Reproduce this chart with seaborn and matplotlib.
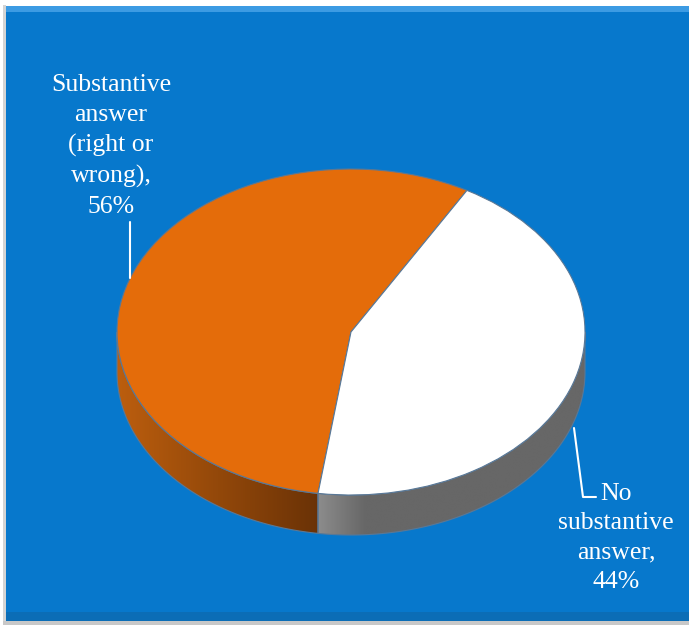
import numpy as np
import matplotlib
matplotlib.use("Agg")
import matplotlib.pyplot as plt
from matplotlib.patches import Polygon, Rectangle
from matplotlib.lines import Line2D
import matplotlib.colors as mcolors
import seaborn as sns

# ---- data ----
categories = ["Substantive\nanswer\n(right or\nwrong)", "No\nsubstantive\nanswer"]
values = [56, 44]
slice_colors = ["#E46C0A", "#FFFFFF"]
side_colors = [("#BC5E0E", "#6A3206"), ("#8C8C8C", "#676767")]

sns.set_style("white")
plt.rcParams["font.family"] = ["Liberation Serif", "DejaVu Serif"]

W, H = 689, 625
fig = plt.figure(figsize=(W / 100, H / 100), dpi=100)
fig.patch.set_facecolor("white")

def fx(px):
    return px / W

def fy(py):
    return 1 - py / H

def frect(x0, y0, x1, y1, color):
    fig.patches.append(Rectangle((fx(x0), fy(y1)), fx(x1) - fx(x0), fy(y0) - fy(y1),
                                 transform=fig.transFigure, facecolor=color,
                                 edgecolor="none", zorder=-5))

# frame / background
frect(3, 5, 6, 622, "#D4D4D4")
frect(3, 621, 689, 625, "#C8C8C8")
frect(6, 6, 689, 621, "#0778CC")
frect(6, 6, 689, 12, "#3C9BE3")
frect(6, 612, 689, 621, "#0B6DB6")

# pie geometry in pixels
cx, cy, a, b, depth = 351, 332, 234, 163, 40
ax = fig.add_axes([0, 0, 1, 1])
ax.set_facecolor("none")
ax.patch.set_alpha(0)
startangle = 60.3

wedges, _ = ax.pie(values, colors=slice_colors, startangle=startangle, counterclock=True,
                   wedgeprops=dict(edgecolor="#5A7896", linewidth=0.8))
for w in wedges:
    w.set_zorder(3)
ax.set_aspect("auto")
ax.axis("off")

d = depth / b
bounds = np.cumsum([0] + values) / sum(values) * 360 + startangle
for i in range(len(values)):
    t0, t1 = bounds[i], bounds[i + 1]
    segs = []
    for off in (0, -360, 360):
        l2, h2 = max(t0 + off, 180), min(t1 + off, 360)
        if h2 > l2:
            segs.append((l2, h2))
    for (l2, h2) in segs:
        t = np.radians(np.linspace(l2, h2, 200))
        xs, ys = np.cos(t), np.sin(t)
        pts = np.concatenate([np.c_[xs, ys], np.c_[xs[::-1], ys[::-1] - d]])
        poly = Polygon(pts, closed=True, facecolor="none", edgecolor="#5A7896",
                       linewidth=0.8, zorder=2)
        ax.add_patch(poly)
        x_min, x_max = xs.min(), xs.max()
        c_a = np.array(mcolors.to_rgb(side_colors[i][0]))
        c_b = np.array(mcolors.to_rgb(side_colors[i][1]))
        xx = np.linspace(x_min, x_max, 300)
        if i == 0:
            frac = (xx - x_min) / (x_max - x_min)
        else:
            frac = np.clip((xx - x_min) / 0.2, 0, 1)
        grad = c_a[None, :] * (1 - frac[:, None]) + c_b[None, :] * frac[:, None]
        img = np.repeat(grad[None, :, :], 2, axis=0)
        im = ax.imshow(img, extent=[x_min, x_max, ys.min() - d, ys.max()], aspect="auto",
                       zorder=1, interpolation="bilinear")
        im.set_clip_path(poly)
ax.set_aspect("auto")
ax.set_xlim((0 - cx) / a, (W - cx) / a)
ax.set_ylim((cy - H) / b, cy / b)

# labels
lbl_kw = dict(color="white", fontsize=18.5, ha="center", va="center", linespacing=1.45,
              transform=fig.transFigure, zorder=5)
fig.text(fx(111), fy(146), f"{categories[0]},\n{values[0]}%", **lbl_kw)
fig.text(fx(616), fy(538), f"{categories[1]},\n{values[1]}%", **lbl_kw)

# leader lines
fig.lines.append(Line2D([fx(130), fx(130)], [fy(222), fy(278)], transform=fig.transFigure,
                        color="white", linewidth=1.5, zorder=5))
fig.lines.append(Line2D([fx(574), fx(583), fx(596)], [fy(428), fy(497), fy(497)],
                        transform=fig.transFigure, color="white", linewidth=1.5, zorder=5))

fig.savefig("out.png", dpi=100)
